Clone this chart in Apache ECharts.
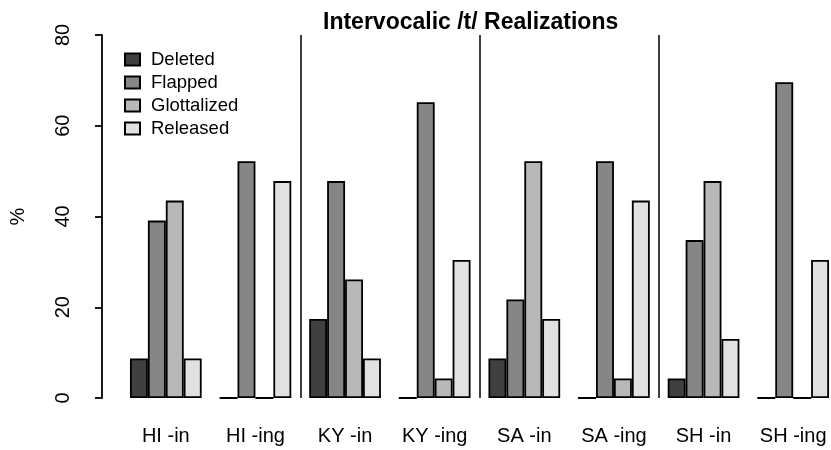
<!DOCTYPE html>
<html>
<head>
<meta charset="utf-8">
<script src="https://cdn.jsdelivr.net/npm/echarts@6/dist/echarts.min.js"></script>
<style>
  html, body { margin: 0; padding: 0; background: #fff; overflow: hidden; }
</style>
</head>
<body>
<div id="main" style="width: 845px; height: 450px;"></div>
<script>
// categories (dialect x suffix)
const groups = ['HI -in', 'HI -ing', 'KY -in', 'KY -ing', 'SA -in', 'SA -ing', 'SH -in', 'SH -ing'];

// percentages per realization
const deleted     = [8.7, 0, 17.4, 0, 8.7, 0, 4.3, 0];
const flapped     = [39.1, 52.2, 47.8, 65.2, 21.7, 52.2, 34.8, 69.6];
const glottalized = [43.5, 0, 26.1, 4.3, 52.2, 4.3, 47.8, 0];
const released    = [8.7, 47.8, 8.7, 30.4, 17.4, 43.5, 13.0, 30.4];

const yTicks = [0, 20, 40, 60, 80];

const font = 'Liberation Sans, Arial, sans-serif';

const makeSeries = (name, data, color) => ({
    name: name,
    type: 'bar',
    data: data,
    barGap: '0%',
    barCategoryGap: '20%',
    itemStyle: { color: color, borderColor: '#000', borderWidth: 1.8 },
    emphasis: { disabled: true },
    animation: false
});

const option = {
    animation: false,
    title: {
        text: 'Intervocalic /t/ Realizations',
        left: 318,
        top: 6,
        textStyle: { fontFamily: font, fontSize: 23, fontWeight: 'bold', color: '#000' }
    },
    legend: {
        orient: 'vertical',
        left: 119,
        top: 45,
        icon: 'rect',
        itemWidth: 15,
        itemHeight: 12,
        itemGap: 4,
        textStyle: { fontFamily: font, fontSize: 18.5, color: '#000', padding: [0, 0, 0, 6] },
        data: ['Deleted', 'Flapped', 'Glottalized', 'Released']
    },
    grid: { left: 121, top: 35, width: 717, height: 363, containLabel: false, outerBoundsMode: 'none' },
    xAxis: {
        type: 'category',
        data: groups,
        axisLine: { show: false },
        axisTick: { show: false },
        axisLabel: { fontFamily: font, fontSize: 20, color: '#000', margin: 28 },
        splitLine: {
            show: true,
            interval: (idx) => idx === 2 || idx === 4 || idx === 6,
            lineStyle: { color: '#000', width: 1.5 }
        }
    },
    yAxis: {
        type: 'value',
        min: yTicks[0],
        max: yTicks[yTicks.length - 1],
        interval: 20,
        offset: 19,
        name: '%',
        nameLocation: 'middle',
        nameRotate: 90,
        nameGap: 74,
        nameTextStyle: { fontFamily: font, fontSize: 20, color: '#000' },
        axisLine: { show: true, lineStyle: { color: '#000', width: 1.8 } },
        axisTick: { show: true, length: 7, lineStyle: { color: '#000', width: 1.8 } },
        axisLabel: { rotate: 90, fontFamily: font, fontSize: 20, color: '#000', margin: 29 },
        splitLine: { show: false }
    },
    series: [
        makeSeries('Deleted', deleted, '#404040'),
        makeSeries('Flapped', flapped, '#868686'),
        makeSeries('Glottalized', glottalized, '#b8b8b8'),
        makeSeries('Released', released, '#e1e1e1')
    ]
};

const chart = echarts.init(document.getElementById('main'), null, { renderer: 'canvas' });
chart.setOption(option);
</script>
</body>
</html>
